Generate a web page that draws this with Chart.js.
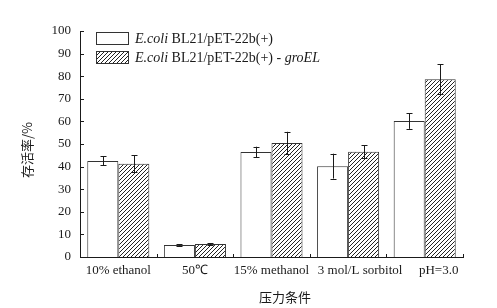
<!DOCTYPE html>
<html>
<head>
<meta charset="utf-8">
<script src="https://cdn.jsdelivr.net/npm/chart.js@4"></script>
<style>
  html, body { margin: 0; padding: 0; background: #fff; }
  #wrap { width: 497px; height: 308px; position: relative; }
</style>
</head>
<body>
<div id="wrap"><canvas id="chart"></canvas></div>
<script>
// ── Data ─────────────────────────────────────────────────────────
const conditions = ['10% ethanol', '50℃', '15% methanol', '3 mol/L sorbitol', 'pH=3.0'];
const controlRate = [42.5, 5.3, 46.5, 40.2, 60.2];
const controlErr = [2.0, 0.3, 2.3, 5.5, 3.5];
const groelRate = [41.3, 5.7, 50.4, 46.6, 78.7];
const groelErr = [3.8, 0.4, 5.0, 2.8, 6.5];
const yTicks = [0, 10, 20, 30, 40, 50, 60, 70, 80, 90, 100];

const SERIF = '"Liberation Serif", "Times New Roman", serif';
const CJK = '"Noto Sans CJK SC", sans-serif';
const INK = '#1a1a1a';

// the last two category labels sit a little right of their bars in the original
const labelShift = [0, 0, 0, 12, 14];

// ── Hatch pattern (////) ─────────────────────────────────────────
function makeHatch() {
    const s = 4;
    const c = document.createElement('canvas');
    c.width = s; c.height = s;
    const g = c.getContext('2d');
    g.fillStyle = '#fff';
    g.fillRect(0, 0, s, s);
    g.strokeStyle = '#222';
    g.lineWidth = 1;
    g.beginPath();
    g.moveTo(0, s); g.lineTo(s, 0);
    g.moveTo(-1, 1); g.lineTo(1, -1);
    g.moveTo(s - 1, s + 1); g.lineTo(s + 1, s - 1);
    g.stroke();
    return g.createPattern(c, 'repeat');
}
const hatch = makeHatch();

// ── Plugins ──────────────────────────────────────────────────────

// error bars with caps
const errorBarPlugin = {
    id: 'errorBars',
    afterDatasetsDraw(chart) {
        const ctx = chart.ctx;
        const yScale = chart.scales.y;
        const errs = [controlErr, groelErr];
        const vals = [controlRate, groelRate];
        ctx.save();
        ctx.strokeStyle = INK;
        ctx.lineWidth = 1;
        for (let d = 0; d < 2; d++) {
            const meta = chart.getDatasetMeta(d);
            meta.data.forEach((bar, i) => {
                const x = Math.round(bar.x) + 0.5;
                const yTop = yScale.getPixelForValue(vals[d][i] + errs[d][i]);
                const yBot = yScale.getPixelForValue(vals[d][i] - errs[d][i]);
                ctx.beginPath();
                ctx.moveTo(x, yTop); ctx.lineTo(x, yBot);
                ctx.moveTo(x - 3, Math.round(yTop) + 0.5); ctx.lineTo(x + 3, Math.round(yTop) + 0.5);
                ctx.moveTo(x - 3, Math.round(yBot) + 0.5); ctx.lineTo(x + 3, Math.round(yBot) + 0.5);
                ctx.stroke();
            });
        }
        ctx.restore();
    },
};

// inward tick marks, category labels, legend, axis titles
const decorPlugin = {
    id: 'decor',
    afterDraw(chart) {
        const ctx = chart.ctx;
        const { left, bottom } = chart.chartArea;
        const xs = chart.scales.x, ys = chart.scales.y;
        ctx.save();
        ctx.strokeStyle = INK;
        ctx.lineWidth = 1;
        ctx.beginPath();
        for (const v of yTicks) {
            const y = Math.round(ys.getPixelForValue(v)) + 0.5;
            ctx.moveTo(left, y); ctx.lineTo(left + 4, y);
        }
        for (let i = 0; i < conditions.length; i++) {
            const x = Math.round((xs.getPixelForValue(i) + xs.getPixelForValue(i + 1)) / 2) + 0.5;
            ctx.moveTo(x, bottom); ctx.lineTo(x, bottom - 3);
        }
        ctx.stroke();

        // category labels
        ctx.fillStyle = INK;
        ctx.font = '13px ' + SERIF;
        ctx.textAlign = 'center';
        ctx.textBaseline = 'top';
        conditions.forEach((c, i) => {
            ctx.fillText(c, xs.getPixelForValue(i) + labelShift[i], bottom + 7);
        });

        // legend
        const swatches = [
            { y: 32, fill: '#fff' },
            { y: 51, fill: hatch },
        ];
        swatches.forEach(s => {
            ctx.fillStyle = s.fill;
            ctx.fillRect(96, s.y, 32, 12);
            ctx.strokeStyle = '#333';
            ctx.strokeRect(96.5, s.y + 0.5, 32, 12);
        });
        ctx.fillStyle = INK;
        ctx.textBaseline = 'alphabetic';
        ctx.textAlign = 'left';
        const line = (y, parts) => {
            let x = 135;
            for (const [txt, italic] of parts) {
                ctx.font = (italic ? 'italic ' : '') + '14px ' + SERIF;
                ctx.fillText(txt, x, y);
                x += ctx.measureText(txt).width;
            }
        };
        line(43, [['E.coli', true], [' BL21/pET-22b(+)', false]]);
        line(62, [['E.coli', true], [' BL21/pET-22b(+) - ', false], ['groEL', true]]);

        // axis titles
        ctx.font = '13px ' + CJK;
        ctx.textAlign = 'center';
        ctx.textBaseline = 'middle';
        ctx.fillText('压力条件', 285, 297);
        ctx.translate(27, 150);
        ctx.rotate(-Math.PI / 2);
        ctx.fillText('存活率/%', 0, 0);
        ctx.restore();
    },
};

// ── Chart ────────────────────────────────────────────────────────
new Chart(document.getElementById('chart'), {
    type: 'bar',
    plugins: [errorBarPlugin, decorPlugin],
    data: {
        labels: conditions,
        datasets: [
            {
                label: 'E.coli BL21/pET-22b(+)',
                data: controlRate,
                backgroundColor: '#fff',
                borderColor: '#333',
                borderWidth: 1,
            },
            {
                label: 'E.coli BL21/pET-22b(+)-groEL',
                data: groelRate,
                backgroundColor: hatch,
                borderColor: '#333',
                borderWidth: 1,
            },
        ],
    },
    options: {
        responsive: true,
        maintainAspectRatio: false,
        animation: false,
        layout: { padding: { left: 0, right: 34, top: 31, bottom: 0 } },
        datasets: { bar: { categoryPercentage: 0.81, barPercentage: 1.0 } },
        plugins: {
            legend: { display: false },
            tooltip: { enabled: false },
        },
        scales: {
            x: {
                grid: { display: false, drawTicks: false },
                border: { display: true, color: INK, width: 1 },
                ticks: { display: false },
                afterFit: (s) => { s.height = 51; },
            },
            y: {
                min: 0,
                max: 100,
                grid: { display: false, drawTicks: false },
                border: { display: true, color: INK, width: 1 },
                ticks: { stepSize: 10, color: INK, font: { family: SERIF, size: 13 }, padding: 9 },
                afterFit: (s) => { s.width = 80; },
            },
        },
    },
});
</script>
</body>
</html>
